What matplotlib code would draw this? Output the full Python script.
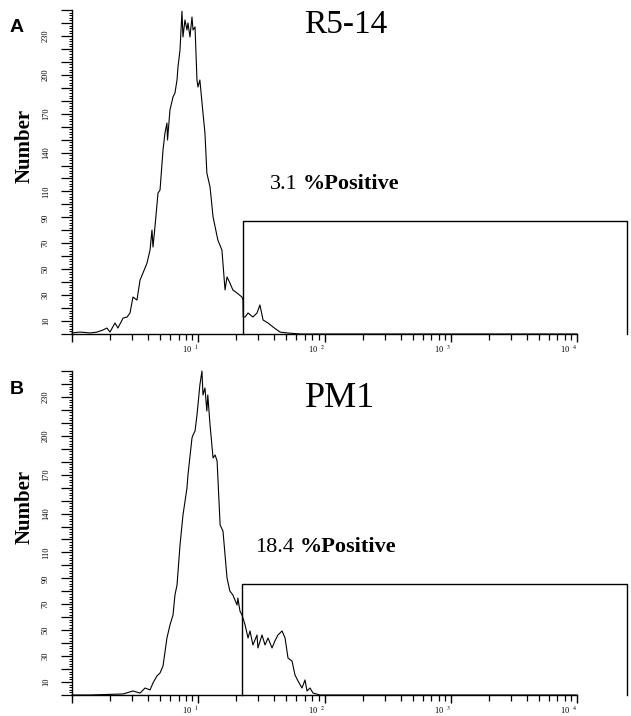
import matplotlib.pyplot as plt
from matplotlib.transforms import ScaledTranslation

plt.rcParams.update({
    "font.family": ["Liberation Serif", "DejaVu Serif"],
    "mathtext.fontset": "stix",
    "axes.linewidth": 1.0,
})

# histogram traces (fluorescence intensity, cell count)
r514_fluor = [1.00, 1.16, 1.39, 1.58, 1.76, 1.89, 2.00, 2.19, 2.31, 2.54,
              2.73, 2.88, 3.04, 3.27, 3.46, 3.65, 3.93, 4.15, 4.30, 4.38,
              4.54, 4.80, 4.98, 5.26, 5.45, 5.65, 5.71, 5.97, 6.31, 6.54,
              6.79, 6.91, 7.17, 7.43, 7.57, 7.85, 8.14, 8.29, 8.60, 8.92,
              9.09, 9.43, 9.77, 9.95, 10.3, 10.9, 11.3, 11.7, 12.4, 13.1,
              14.3, 15.4, 16.3, 16.9, 17.8, 18.8, 20.3, 22.2, 22.6, 22.7,
              23.5, 24.8, 27.1, 29.2, 30.8, 32.6, 35.7, 39.1, 44.4, 50.5,
              64.0, 10000]
r514_count = [0.8, 1.5, 0.8, 1.5, 3.1, 4.6, 1.5, 8.5, 4.6, 12.3,
              13.1, 16.2, 28.5, 26.2, 41.7, 47.1, 54.8, 64.8, 80.2, 67.1,
              82.6, 108.8, 111.1, 142.0, 155.1, 162.8, 149.7, 172.8, 182.9, 186.0,
              196.0, 206.0, 219.1, 249.0, 229.2, 242.3, 234.6, 240.0, 229.2, 244.6,
              234.6, 236.9, 196.0, 190.6, 196.0, 170.5, 155.1, 124.2, 113.4, 90.3,
              72.5, 64.8, 34.0, 44.0, 39.4, 34.0, 31.6, 28.5, 26.2, 13.1,
              13.1, 16.2, 13.1, 16.2, 22.4, 10.8, 8.5, 5.4, 1.5, 0.8,
              0.0, 0.0]

pm1_fluor = [1.00, 1.39, 2.54, 3.04, 3.46, 3.79, 4.15, 4.38, 4.71, 4.98,
             5.26, 5.65, 5.97, 6.31, 6.54, 6.79, 7.17, 7.57, 8.14, 8.29,
             8.92, 9.09, 9.43, 9.77, 9.95, 10.3, 10.7, 10.9, 11.3, 11.7,
             11.9, 12.4, 13.1, 13.6, 14.1, 14.9, 15.7, 16.9, 17.8, 18.8,
             20.3, 20.6, 21.4, 22.2, 22.6, 23.5, 24.8, 25.7, 27.1, 29.2,
             29.7, 32.0, 33.8, 35.7, 38.4, 40.5, 42.8, 46.1, 48.7, 51.4,
             55.3, 58.4, 61.7, 66.3, 70.1, 72.7, 76.8, 81.1, 92.1, 10000]
pm1_count = [0.0, 0.0, 0.8, 3.1, 1.5, 5.4, 3.9, 9.3, 14.7, 17.0,
             22.4, 44.0, 54.0, 61.7, 77.2, 84.9, 115.7, 138.9, 159.7, 169.8,
             198.3, 200.6, 203.7, 216.0, 223.8, 239.2, 250.0, 231.5, 236.9, 219.1,
             231.5, 208.3, 182.9, 185.2, 180.6, 131.2, 126.5, 90.3, 80.2, 77.2,
             69.4, 74.8, 64.8, 61.7, 59.4, 54.0, 44.0, 49.4, 38.6, 46.3,
             36.3, 46.3, 38.6, 44.0, 36.3, 41.7, 46.3, 49.4, 44.0, 28.5,
             26.2, 15.4, 10.8, 5.4, 11.6, 3.1, 5.4, 1.5, 0.0, 0.0]

panel_letters = ["A", "B"]
cell_lines = ["R5-14", "PM1"]
pct_positive = ["3.1", "18.4"]
gate_lo = [22.6, 22.2]
gate_hi = [24900, 24900]
gate_top = [87, 86]

decades = [1, 10, 100, 1000, 10000]
decade_labels = ["", "10$^{\\quad 1}$", "10$^{\\quad 2}$", "10$^{\\quad 3}$", "10$^{\\quad 4}$"]
count_labels = [10, 30, 50, 70, 90, 110, 140, 170, 200, 230]

W, H = 631, 716
fig = plt.figure(figsize=(W / 100, H / 100), dpi=100)

# pixel geometry of the two panels (axis bottom y, axis top y)
panels = [(334, 10), (695, 371)]
x0 = 72
xmax = 10 ** ((W - x0) / 126.25)

traces = [(r514_fluor, r514_count), (pm1_fluor, pm1_count)]
pct_pos = [(0.354, 0.46), (0.327, 0.454)]
title_pos = [(0.49, 0.955), (0.48, 0.915)]
title_size = [24, 26]

for i, (ybot, ytop) in enumerate(panels):
    ax = fig.add_axes([x0 / W, (H - ybot) / H, (W - x0) / W, (ybot - ytop) / H])
    fx, cnt = traces[i]
    ax.plot(fx, cnt, color="black", lw=0.8, clip_on=False, zorder=3)
    lo, hi, top = gate_lo[i], gate_hi[i], gate_top[i]
    ax.plot([lo, lo, hi, hi], [0, top, top, 0], color="black", lw=1.0, clip_on=False)

    ax.set_xscale("log")
    ax.set_xlim(1, xmax)
    ax.set_ylim(0, 250)
    for s in ("top", "right"):
        ax.spines[s].set_visible(False)
    ax.spines["bottom"].set_bounds(1, 10000)
    ax.spines["left"].set_bounds(0, 250)

    # x ticks: decades + log minors
    ax.set_xticks(decades)
    ax.set_xticklabels(decade_labels)
    ax.set_xticks([m * d for d in decades[:-1] for m in range(2, 10)], minor=True)
    ax.tick_params(axis="x", which="major", direction="out", length=6, width=1.0,
                   labelsize=6, pad=1)
    ax.tick_params(axis="x", which="minor", direction="out", length=4, width=0.9,
                   labelbottom=False)
    for lab in ax.get_xticklabels():
        lab.set_transform(lab.get_transform() + ScaledTranslation(-8 / 100, 0, fig.dpi_scale_trans))

    # y ticks: ruler style
    major = list(range(0, 251, 10))
    ax.set_yticks(major)
    ax.set_yticklabels([str(v) if v in count_labels else "" for v in major])
    ax.set_yticks(list(range(0, 251, 2)), minor=True)
    ax.tick_params(axis="y", which="major", direction="out", length=8, width=0.9,
                   labelsize=6, pad=8, labelrotation=90)
    ax.tick_params(axis="y", which="minor", direction="out", length=2.5, width=0.7)
    for lab in ax.get_yticklabels():
        lab.set_verticalalignment("center")

    ax.text(title_pos[i][0], title_pos[i][1], cell_lines[i], transform=ax.transAxes,
            ha="center", va="center", fontsize=title_size[i])
    t1 = ax.text(pct_pos[i][0], pct_pos[i][1], pct_positive[i], transform=ax.transAxes,
                 ha="left", va="center", fontsize=16)
    ax.annotate("%Positive", xy=(1, 0), xycoords=t1, xytext=(4, 0),
                textcoords="offset points", ha="left", va="bottom",
                fontsize=16, fontweight="bold")

    fig.text(25 / W, 1 - (ybot - 0.58 * (ybot - ytop)) / H, "Number", rotation=90,
             ha="center", va="center", fontsize=15, fontweight="bold")
    fig.text(17 / W, 1 - (ytop + 18) / H, panel_letters[i], ha="center", va="center",
             fontsize=14, fontweight="bold", family=["Liberation Sans", "DejaVu Sans"])

fig.savefig("out.png", dpi=100)
